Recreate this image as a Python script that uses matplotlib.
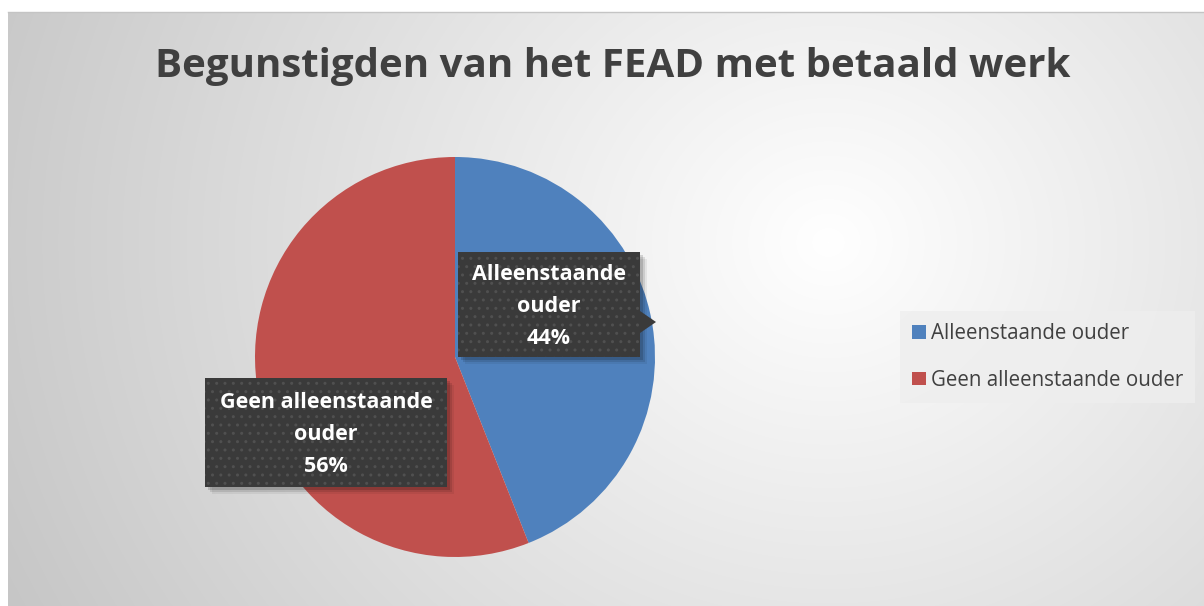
import numpy as np
import matplotlib.pyplot as plt
from matplotlib.patches import Polygon, Rectangle

plt.rcParams['font.family'] = ['Open Sans', 'DejaVu Sans']

# --- data -------------------------------------------------------------------
title = "Begunstigden van het FEAD met betaald werk"
categories = ["Alleenstaande ouder", "Geen alleenstaande ouder"]
label_text = ["Alleenstaande\nouder", "Geen alleenstaande\nouder"]
shares = [44, 56]
colors = ["#4F81BD", "#C0504D"]

W, H = 1204, 606
fig = plt.figure(figsize=(W / 100, H / 100), dpi=100)
fig.patch.set_facecolor("white")

# --- background gradient (chart area) ----------------------------------------
bg = fig.add_axes([8 / W, 0, 1 - 8 / W, (H - 12) / H])
yy, xx = np.mgrid[0:594, 0:1196]
dist = np.hypot(xx - 820, (yy - 230) / 0.9)
shade = 1.0 - np.clip(dist / 900, 0, 1) * 0.22
bg.imshow(np.dstack([shade] * 3), aspect="auto", extent=[0, 1, 0, 1],
          interpolation="bilinear")
bg.set_axis_off()
fig.add_artist(plt.Line2D([8 / W, 1], [(H - 12) / H] * 2, color="#c4c4c4",
                          linewidth=1, transform=fig.transFigure))

# --- pie ----------------------------------------------------------------------
cx, cy, r = 455, 357, 200
ax = fig.add_axes([(cx - r) / W, (H - cy - r) / H, 2 * r / W, 2 * r / H])
wedges, _ = ax.pie(shares, colors=colors, startangle=90, counterclock=False,
                   wedgeprops=dict(linewidth=0))
ax.set_xlim(-1, 1)
ax.set_ylim(-1, 1)
ax.set_aspect("equal")

# --- data labels: dark callout boxes (overlay axes in pixel coords) ----------
ov = fig.add_axes([0, 0, 1, 1], facecolor="none")
ov.set_xlim(0, W)
ov.set_ylim(H, 0)
ov.set_axis_off()

boxes = [(458, 252, 182, 105), (205, 378, 242, 109)]
for (bx, by, bw, bh), txt, pct in zip(boxes, label_text, shares):
    for k, a in [(7, 0.06), (5, 0.10), (3, 0.14)]:
        ov.add_patch(Rectangle((bx + k, by + k), bw, bh, facecolor="black",
                               alpha=a, edgecolor="none", zorder=3))
    ov.add_patch(Rectangle((bx, by), bw, bh, facecolor="#3a3a3a",
                           edgecolor="#505050", linewidth=0, hatch="..",
                           zorder=4))
    ov.text(bx + bw / 2, by + bh / 2 + 2, f"{txt}\n{pct}%", ha="center",
            va="center", fontsize=15.5, fontweight="bold", color="white",
            linespacing=1.68, zorder=5)

# pointer of the first callout
ov.add_patch(Polygon([(640, 311), (656, 322), (640, 333)], closed=True,
                     facecolor="#3a3a3a", edgecolor="none", zorder=4))

# --- title --------------------------------------------------------------------
fig.text(613 / W, 1 - 66 / H, title, ha="center", va="center", fontsize=29,
         fontweight="bold", color="#404040")

# --- legend -------------------------------------------------------------------
leg = fig.legend(wedges, categories, loc="center left",
                 bbox_to_anchor=(900 / W, 1 - 357 / H), frameon=True,
                 fontsize=14.8, handlelength=0.65, handleheight=0.65,
                 handletextpad=0.25, labelspacing=1.25, borderpad=0.6,
                 borderaxespad=0, fancybox=False, labelcolor="#404040")
leg.get_frame().set_facecolor("#eeeeee")
leg.get_frame().set_edgecolor("none")
leg.get_frame().set_alpha(0.8)

fig.savefig("out.png", dpi=100)
